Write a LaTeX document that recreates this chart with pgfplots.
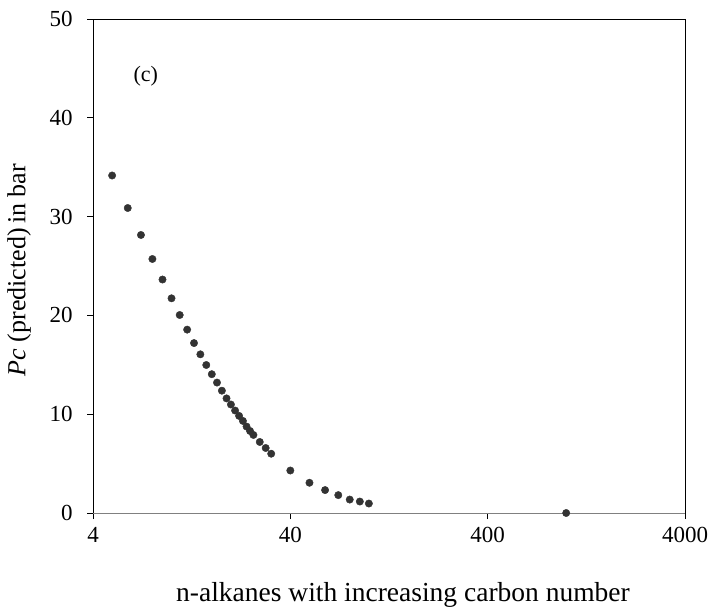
\documentclass[border=0pt]{standalone}
\usepackage{fontspec}
\setmainfont{Liberation Serif}
\usepackage{pgfplots}
\pgfplotsset{compat=1.18}
\definecolor{dotc}{HTML}{333333}
\begin{document}
\begin{tikzpicture}
\begin{axis}[
  scale only axis,
  width=592pt, height=494pt,
  xmode=log,
  xmin=4, xmax=4000,
  ymin=0, ymax=50,
  xtick={4,40,400,4000},
  xticklabels={4,40,400,4000},
  ytick={0,10,20,30,40,50},
  xminorticks=false, yminorticks=false,
  axis line style={black, line width=0.8pt},
  tick style={black, line width=0.8pt},
  xtick pos=bottom, ytick pos=left,
  tick align=outside,
  major tick length=6pt,
  /pgf/number format/assume math mode=true,
  tick label style={font=\fontsize{23}{25}\selectfont},
  yticklabel style={xshift=-11pt},
  xticklabel style={yshift=-5pt},
  xlabel={n-alkanes with increasing carbon number},
  ylabel={\textit{Pc} (predicted)\,in bar},
  label style={font=\fontsize{27.5}{29}\selectfont},
  ylabel style={font=\fontsize{26}{28}\selectfont, at={(axis description cs:-0.125,0.492)}, anchor=center},
  xlabel style={at={(axis description cs:0.5236,-0.166)}, anchor=center},
  clip=false,
]
\draw[gray, line width=0.9pt] (rel axis cs:0,0) -- (rel axis cs:1,0);
\addplot[only marks, mark=*, mark size=3.7pt, mark options={fill=dotc, draw=dotc}] coordinates {
(5,34.16) (6,30.87) (7,28.14) (8,25.71) (9,23.63) (10,21.73) (11,20.04) (12,18.56)
(13,17.2) (14,16.06) (15,14.98) (16,14.05) (17,13.2) (18,12.38) (19,11.6) (20,10.98)
(21,10.37) (22,9.83) (23,9.32) (24,8.75) (25,8.3) (26,7.9) (28,7.19) (30,6.58)
(32,6.0) (40,4.3) (50,3.06) (60,2.32) (70,1.81) (80,1.36) (90,1.16) (100,0.96)
(1000,0)
};
\node[font=\fontsize{22}{24}\selectfont] at (axis cs:7.4,44.2) {(c)};
\end{axis}
\path[use as bounding box] ([xshift=-93pt,yshift=-96pt]current axis.south west) rectangle ([xshift=29pt,yshift=19pt]current axis.north east);
\end{tikzpicture}
\end{document}
